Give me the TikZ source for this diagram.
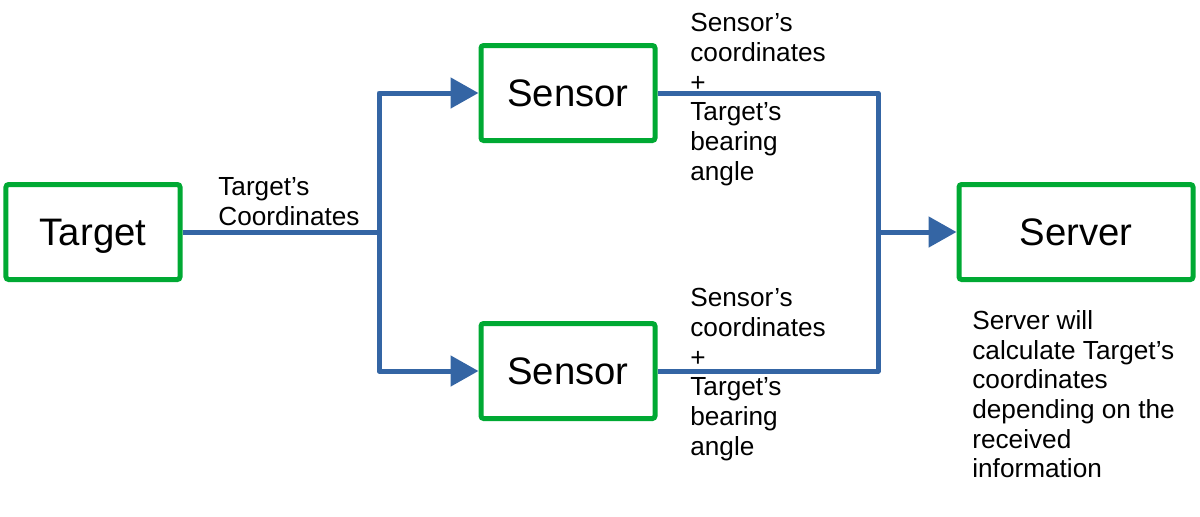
\documentclass[tikz,border=0pt]{standalone}
\usepackage{fontspec}
\setmainfont{Liberation Sans}
\usetikzlibrary{arrows.meta,calc}
\definecolor{boxgreen}{HTML}{00A933}
\definecolor{linkblue}{HTML}{3465A4}
\tikzstyle{device} = [rectangle, rounded corners=1.5pt, minimum width=3.48cm, minimum height=1.9cm, text centered, text depth=0pt, draw=boxgreen, line width=0.1cm, font=\fontsize{21.8}{26}\selectfont]
\tikzstyle{link} = [draw=linkblue, line width=0.1cm, line join=round]
\tikzstyle{arrow} = [link, -{Triangle[length=0.56cm,width=0.6cm]}]
\tikzstyle{note} = [align=left, inner sep=0pt, anchor=north west, font=\fontsize{14.9}{16.9}\selectfont]

\begin{document}
\begin{tikzpicture}[node distance=2cm]
	\useasboundingbox (-1.86,-5.68) rectangle (22.14,4.64);
	\node (target) [device] {Target};
	\node (sensor1) [device, right of=target, xshift=7.5cm, yshift=2.78cm] {Sensor};
	\node (sensor2) [device, right of=target, xshift=7.5cm, yshift=-2.78cm] {Sensor};
	\node (server) [device, minimum width=4.68cm, right of=target, xshift=17.66cm] {Server};
	\coordinate (split) at ($(target)+(5.72,0)$);
	\coordinate (merge) at ($(target)+(15.7,0)$);
	\draw [link] (target.east) -- (split);
	\draw [arrow] (split) |- (sensor1.west);
	\draw [arrow] (split) |- (sensor2.west);
	\draw [link] (sensor1.east) -| (merge) |- (sensor2.east);
	\draw [arrow] (merge) -- (server.west);
	\node (coordnote) [note] at ($(target)+(2.5,1.1)$) {Target’s\\Coordinates};
	\node (topnote) [note] at ($(sensor1)+(2.44,1.6)$) {Sensor’s\\coordinates\\+\\Target’s\\bearing\\angle};
	\node (bottomnote) [note] at ($(sensor2)+(2.44,1.66)$) {Sensor’s\\coordinates\\+\\Target’s\\bearing\\angle};
	\node (servernote) [note] at ($(server)+(-2.08,-1.56)$) {Server will\\calculate Target’s\\coordinates\\depending on the\\received\\information};
\end{tikzpicture}
\end{document}
